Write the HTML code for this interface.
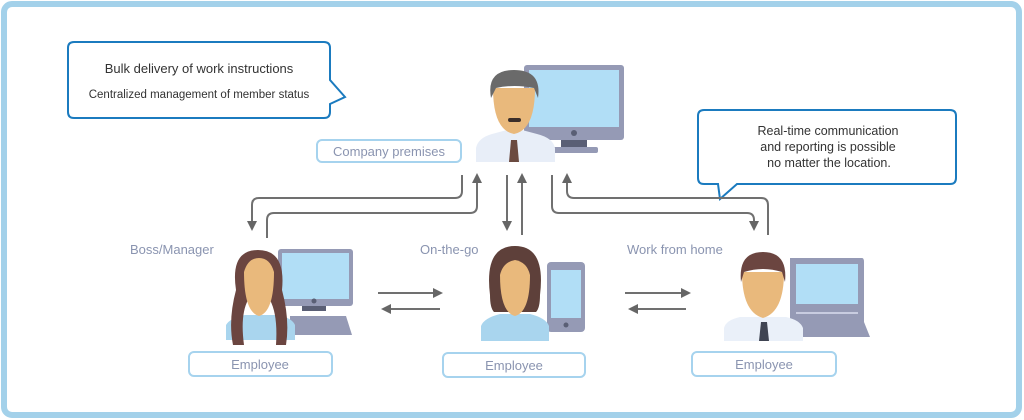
<!DOCTYPE html>
<html><head><meta charset="utf-8"><style>
html,body{margin:0;padding:0;background:#fff;}
svg{display:block;font-family:"Liberation Sans",sans-serif;}
</style></head><body>
<svg width="1024" height="420" viewBox="0 0 1024 420" xmlns="http://www.w3.org/2000/svg">
<defs>
<marker id="ah" markerWidth="10" markerHeight="10" refX="5" refY="5" orient="auto" markerUnits="userSpaceOnUse"><path d="M0,0 L10,5 L0,10 Z" fill="#666"/></marker>
</defs>
<rect x="4" y="4" width="1015" height="411" rx="8" fill="#fff" stroke="#a3d1ea" stroke-width="6"/>

<!-- left callout -->
<path d="M74,42 H324 Q330,42 330,48 V80 L345,97 L330,104 V112 Q330,118 324,118 H74 Q68,118 68,112 V48 Q68,42 74,42 Z" fill="#fff" stroke="#1b7bbf" stroke-width="2"/>
<text x="199" y="73" font-size="13" fill="#333" text-anchor="middle">Bulk delivery of work instructions</text>
<text x="199" y="98" font-size="11.5" fill="#333" text-anchor="middle">Centralized management of member status</text>

<!-- right callout -->
<path d="M704,110 H950 Q956,110 956,116 V178 Q956,184 950,184 H737 L720,199 L718,184 H704 Q698,184 698,178 V116 Q698,110 704,110 Z" fill="#fff" stroke="#1b7bbf" stroke-width="2"/>
<text x="828" y="135" font-size="12.5" fill="#333" text-anchor="middle">Real-time communication</text>
<text x="828" y="151" font-size="12.5" fill="#333" text-anchor="middle">and reporting is possible</text>
<text x="829" y="167" font-size="12.5" fill="#333" text-anchor="middle">no matter the location.</text>

<!-- label boxes -->
<g fill="#fff" stroke="#a6d3ee" stroke-width="2">
<rect x="317" y="140" width="144" height="22" rx="5"/>
<rect x="189" y="352" width="143" height="24" rx="5"/>
<rect x="443" y="353" width="142" height="24" rx="5"/>
<rect x="692" y="352" width="144" height="24" rx="5"/>
</g>
<g fill="#8a94b0" font-size="13" text-anchor="middle">
<text x="389" y="156">Company premises</text>
<text x="260" y="369">Employee</text>
<text x="514" y="370">Employee</text>
<text x="764" y="369">Employee</text>
</g>
<g fill="#8a94b0" font-size="13">
<text x="130" y="254">Boss/Manager</text>
<text x="420" y="254">On-the-go</text>
<text x="627" y="254">Work from home</text>
</g>

<!-- connectors -->
<g fill="none" stroke="#707070" stroke-width="2">
<path d="M462,175 V191 Q462,198 455,198 H259 Q252,198 252,205 V226" marker-end="url(#ah)"/>
<path d="M267,238 V220 Q267,213 274,213 H470 Q477,213 477,206 V178" marker-end="url(#ah)"/>
<path d="M507,175 V226" marker-end="url(#ah)"/>
<path d="M522,235 V178" marker-end="url(#ah)"/>
<path d="M768,235 V205 Q768,198 761,198 H574 Q567,198 567,191 V178" marker-end="url(#ah)"/>
<path d="M552,175 V206 Q552,213 559,213 H747 Q754,213 754,220 V226" marker-end="url(#ah)"/>
<path d="M378,293 H438" marker-end="url(#ah)"/>
<path d="M440,309 H386" marker-end="url(#ah)"/>
<path d="M625,293 H686" marker-end="url(#ah)"/>
<path d="M686,309 H633" marker-end="url(#ah)"/>
</g>

<!-- Boss -->
<rect x="524" y="65" width="100" height="75" rx="3" fill="#959ab5"/>
<rect x="529" y="70" width="90" height="57" fill="#b1def6"/>
<circle cx="574" cy="133" r="3" fill="#5a5f75"/>
<rect x="561" y="140" width="26" height="7" fill="#5a5f75"/>
<rect x="550" y="147" width="48" height="6" rx="2" fill="#959ab5"/>
<path d="M476,162 V148 Q478,138 492,134 L507,130 H522 L537,134 Q553,138 555,148 V162 Z" fill="#e8eef8"/>
<path d="M511,140 H517 L519,162 H509 Z" fill="#6b4a40"/>
<path d="M493,88 Q493,130 514,134 Q535,130 535,88 Z" fill="#e9b97c"/>
<path d="M491,98 Q486,70 514,70 Q542,70 538,98 L534,88 Q514,84 496,88 Z" fill="#6a6a6a"/>
<rect x="508" y="118" width="13" height="4" rx="2" fill="#3b2e2a"/>

<!-- Left woman -->
<rect x="278" y="249" width="75" height="57" rx="3" fill="#959ab5"/>
<rect x="282" y="253" width="67" height="46" fill="#b1def6"/>
<circle cx="314" cy="301" r="2.5" fill="#5a5f75"/>
<rect x="302" y="306" width="24" height="5" fill="#5a5f75"/>
<path d="M290,316 H346 L352,335 H290 Z" fill="#959ab5"/>
<path d="M226,340 V325 Q230,318 245,315 H278 Q292,318 295,325 V340 Z" fill="#a9d5ee"/>
<path d="M236,290 Q230,250 258,250 Q286,250 282,290 Q290,320 286,345 L276,345 Q278,315 270,300 H248 Q240,315 244,345 L233,345 Q228,320 236,290 Z" fill="#6b4540"/>
<path d="M244,272 Q244,312 259,316 Q274,312 274,272 Q270,258 259,258 Q248,258 244,272 Z" fill="#e9b97c"/>

<!-- Middle woman -->
<rect x="547" y="262" width="38" height="70" rx="4" fill="#959ab5"/>
<rect x="551" y="270" width="30" height="48" fill="#b1def6"/>
<circle cx="566" cy="325" r="2.5" fill="#5a5f75"/>
<path d="M481,341 V326 Q484,318 500,314 H530 Q546,318 549,326 V341 Z" fill="#a9d5ee"/>
<path d="M490,295 Q484,246 515,246 Q546,246 540,295 Q540,308 536,312 H494 Q490,308 490,295 Z" fill="#5e403a"/>
<path d="M500,275 Q500,312 515,316 Q530,312 530,275 Q527,262 515,260 Q503,262 500,275 Z" fill="#e9b97c"/>

<!-- Right man -->
<path d="M790,258 H862 Q864,258 864,262 V322 L870,337 H787 L790,322 Z" fill="#959ab5"/>
<rect x="796" y="264" width="62" height="40" fill="#b1def6"/>
<rect x="796" y="312" width="62" height="2" fill="#c8cce0"/>
<rect x="722" y="342" width="0" height="0"/>
<path d="M724,341 V328 Q726,320 740,317 H786 Q800,320 803,328 V341 Z" fill="#eaf0f9"/>
<path d="M761,322 H767 L769,341 H759 Z" fill="#3f4452"/>
<path d="M742,272 Q742,312 763,318 Q784,312 784,272 Z" fill="#e9b97c"/>
<path d="M741,282 Q738,252 763,252 Q788,252 785,282 L782,272 Q763,266 744,272 Z" fill="#6b4540"/>
</svg>
</body></html>
